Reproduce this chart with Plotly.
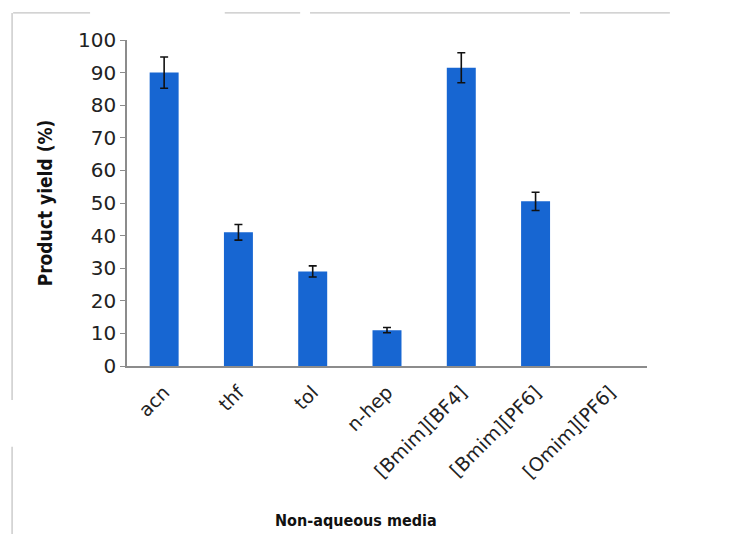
import plotly.graph_objects as go

# Yield of product in different non-aqueous media
media = ["acn", "thf", "tol", "n-hep", "[Bmim][BF4]", "[Bmim][PF6]", "[Omim][PF6]"]
yield_pct = [90.0, 41.0, 29.0, 11.0, 91.5, 50.5, 0.0]
yield_err = [4.8, 2.4, 1.7, 0.8, 4.6, 2.8, 0.0]

fig = go.Figure()
fig.add_trace(go.Bar(
    x=media,
    y=yield_pct,
    width=0.39,
    marker=dict(color="#1766d2", line=dict(width=0)),
    showlegend=False,
    hoverinfo="skip",
))

# error bars only where a spread was measured
err_idx = [i for i, e in enumerate(yield_err) if e > 0]
fig.add_trace(go.Scatter(
    x=[media[i] for i in err_idx],
    y=[yield_pct[i] for i in err_idx],
    mode="markers",
    marker=dict(size=1, opacity=0),
    error_y=dict(type="data", array=[yield_err[i] for i in err_idx], visible=True,
                 color="#111111", thickness=1.6, width=4),
    showlegend=False,
))

axis_grey = "#8c8c8c"
base_font = "DejaVu Sans, Verdana, sans-serif"
title_font = "DejaVu Sans Condensed, DejaVu Sans, sans-serif"
fig.update_layout(
    width=735, height=534,
    margin=dict(l=127, r=88, t=40, b=168),
    paper_bgcolor="white", plot_bgcolor="white",
    font=dict(family=base_font, color="#1a1a1a", size=18),
    bargap=0.6,
    xaxis=dict(
        tickangle=-45,
        tickfont=dict(size=19, color="#222222"),
        ticklabelstandoff=6,
        showline=True, linecolor=axis_grey, linewidth=1.5,
        ticks="", showgrid=False,
    ),
    yaxis=dict(
        range=[0, 100], dtick=10,
        showline=True, linecolor=axis_grey, linewidth=1.5,
        ticks="outside", ticklen=5, tickcolor=axis_grey,
        showgrid=False, zeroline=False,
        tickfont=dict(size=20, color="#222222"),
        title=dict(text="Product yield (%)",
                   font=dict(family=title_font, size=19, weight="bold", color="#111111"),
                   standoff=20),
    ),
)

# x-axis title
fig.add_annotation(text="Non-aqueous media", xref="paper", yref="paper",
                   x=0.44, y=-0.475, showarrow=False,
                   font=dict(family=title_font, size=16, weight="bold", color="#111111"),
                   xanchor="center", yanchor="middle")

# faint frame of the chart area
frame = dict(color="#c4c4c4", width=1.3)
for x0, x1 in [(-0.219, -0.071), (0.188, 0.333), (0.352, 0.852), (0.871, 1.044)]:
    fig.add_shape(type="line", xref="paper", yref="paper",
                  x0=x0, x1=x1, y0=1.083, y1=1.083, line=frame)
for y0, y1 in [(1.083, -0.104), (-0.248, -0.515)]:
    fig.add_shape(type="line", xref="paper", yref="paper",
                  x0=-0.221, x1=-0.221, y0=y0, y1=y1, line=frame)

fig.write_html("out.html")
